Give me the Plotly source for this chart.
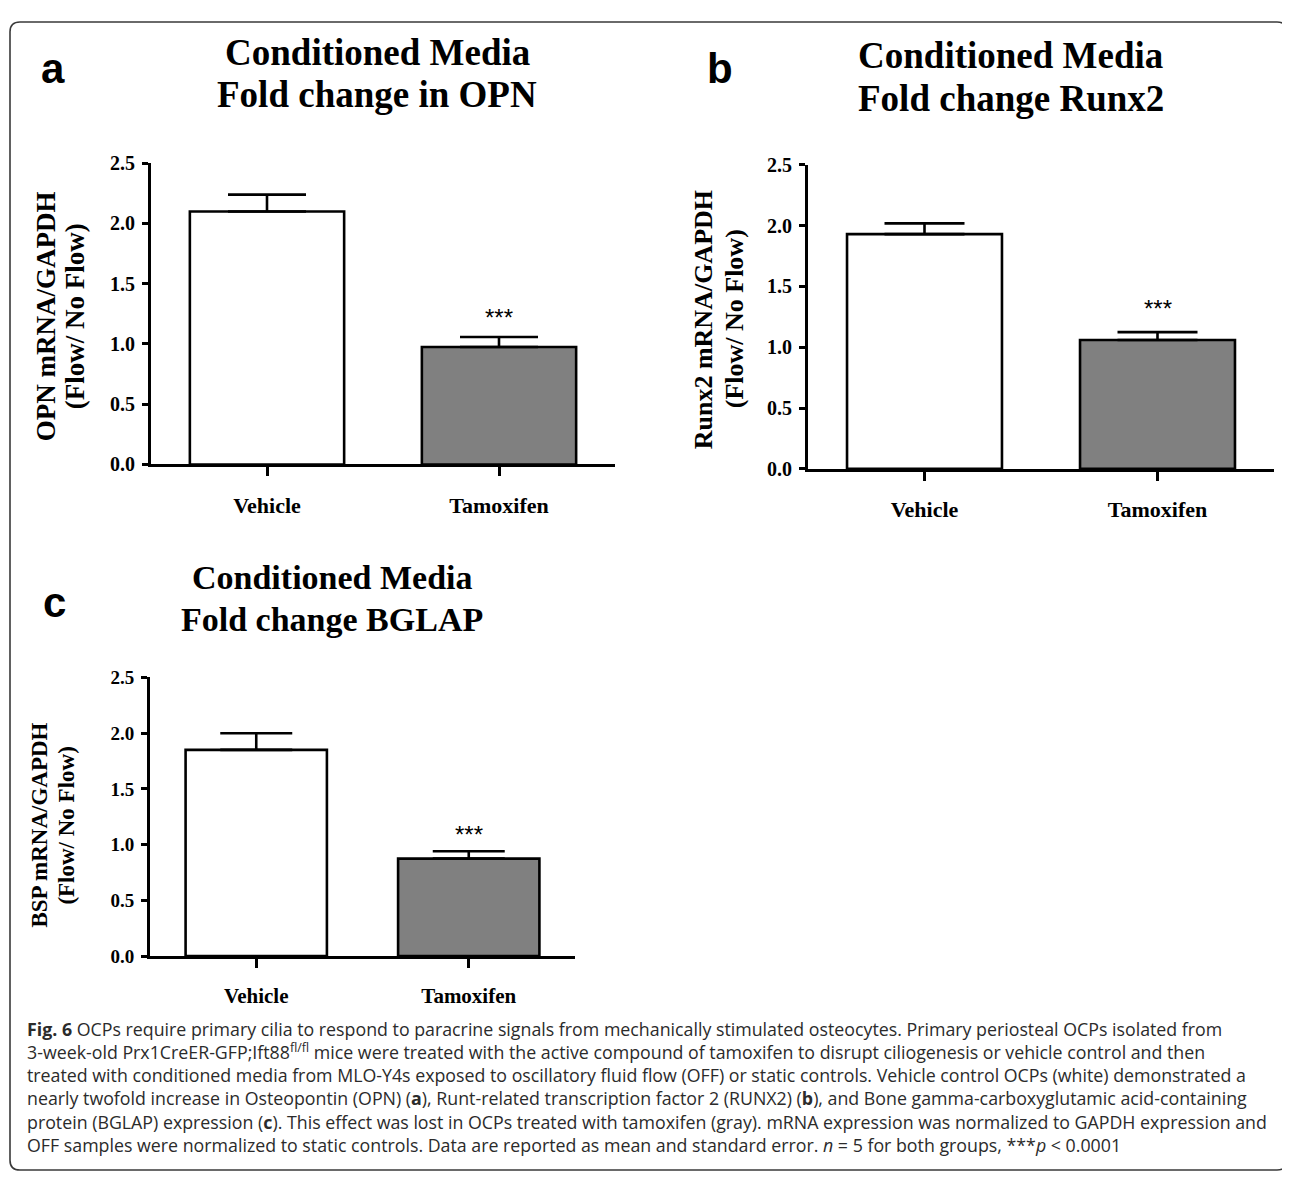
import plotly.graph_objects as go

# page body has an 8px default margin; lay out in screen pixels and shift
OFF = 8
FW, FH = 1290 - OFF, 1183 - OFF

# ---------------- data ----------------
categories = ["Vehicle", "Tamoxifen"]

opn_mean = [2.10, 0.975]
opn_sem = [0.14, 0.083]

runx2_mean = [1.93, 1.06]
runx2_sem = [0.088, 0.064]

bglap_mean = [1.85, 0.875]
bglap_sem = [0.15, 0.066]

y_ticks = [0.0, 0.5, 1.0, 1.5, 2.0, 2.5]

panel_letters = ["a", "b", "c"]
panel_titles = [
    ["Conditioned Media", "Fold change in OPN"],
    ["Conditioned Media", "Fold change Runx2"],
    ["Conditioned Media", "Fold change BGLAP"],
]
y_titles = [
    ["OPN mRNA/GAPDH", "(Flow/ No Flow)"],
    ["Runx2 mRNA/GAPDH", "(Flow/ No Flow)"],
    ["BSP mRNA/GAPDH", "(Flow/ No Flow)"],
]
sig_label = "***"

caption_lines = [
    "<b>Fig. 6</b> OCPs require primary cilia to respond to paracrine signals from mechanically stimulated osteocytes. Primary periosteal OCPs isolated from",
    "3-week-old Prx1CreER-GFP;Ift88<sup>fl/fl</sup> mice were treated with the active compound of tamoxifen to disrupt ciliogenesis or vehicle control and then",
    "treated with conditioned media from MLO-Y4s exposed to oscillatory fluid flow (OFF) or static controls. Vehicle control OCPs (white) demonstrated a",
    "nearly twofold increase in Osteopontin (OPN) (<b>a</b>), Runt-related transcription factor 2 (RUNX2) (<b>b</b>), and Bone gamma-carboxyglutamic acid-containing",
    "protein (BGLAP) expression (<b>c</b>). This effect was lost in OCPs treated with tamoxifen (gray). mRNA expression was normalized to GAPDH expression and",
    "OFF samples were normalized to static controls. Data are reported as mean and standard error. <i>n</i> = 5 for both groups, ***<i>p</i> &lt; 0.0001",
]

# ---------------- style / layout ----------------
SERIF = "Liberation Serif, Times New Roman, serif"
SANS = "Liberation Sans, Arial, sans-serif"
CAP_FONT = "Open Sans, Noto Sans, sans-serif"
bar_colors = ["#ffffff", "#808080"]


def px_x(p):
    return (p - OFF) / FW


def px_y(p):
    return 1 - (p - OFF) / FH


# pixel boxes (screen coords) for each panel: (x0, x1, y_top, y_bottom)
panels = [
    dict(box=(151, 615, 155, 462), means=opn_mean, sems=opn_sem, cap=39,
         title_x=377, title_y=(42, 85), title_size=37,
         letter=(53, 58), ytitle_x=(46, 75), ytitle_y=311, ytitle_size=27,
         tick_size=20, xlab_size=22, star_shift=20),
    dict(box=(808, 1274, 156.5, 466.5), means=runx2_mean, sems=runx2_sem, cap=40,
         title_x=1011, title_y=(45.5, 89.5), title_size=37,
         letter=(720, 58), ytitle_x=(703, 734), ytitle_y=314, ytitle_size=26,
         tick_size=20, xlab_size=22, star_shift=24),
    dict(box=(150, 575, 679, 963), means=bglap_mean, sems=bglap_sem, cap=36,
         title_x=332, title_y=(577, 620), title_size=34,
         letter=(54, 603), ytitle_x=(40, 67), ytitle_y=830, ytitle_size=23,
         tick_size=19, xlab_size=21, star_shift=17),
]

fig = go.Figure()
annotations = []

for i, p in enumerate(panels):
    k = "" if i == 0 else str(i + 1)
    x0, x1, yt, yb = p["box"]
    fig.add_trace(go.Bar(
        x=categories, y=p["means"],
        width=0.665,
        marker=dict(color=bar_colors, line=dict(color="black", width=2.6)),
        error_y=dict(type="data", symmetric=False, array=p["sems"],
                     arrayminus=[0] * len(p["sems"]),
                     color="black", thickness=2.6, width=p["cap"]),
        xaxis="x" + k, yaxis="y" + k, showlegend=False, hoverinfo="skip",
    ))

    xa = dict(domain=[px_x(x0), px_x(x1)], range=[-0.5, 1.5], anchor="y" + k,
              showline=True, linecolor="black", linewidth=3,
              ticks="outside", ticklen=9, tickwidth=2.5, tickcolor="black",
              tickfont=dict(family=SERIF, size=p["xlab_size"], color="black", weight="bold"),
              ticklabelstandoff=10, showgrid=False, zeroline=False, fixedrange=True)
    ya = dict(domain=[px_y(yb), px_y(yt)], range=[0, 2.5], anchor="x" + k,
              tickvals=y_ticks, tickformat=".1f",
              showline=True, linecolor="black", linewidth=3,
              ticks="outside", ticklen=6, tickwidth=2.5, tickcolor="black",
              tickfont=dict(family=SERIF, size=p["tick_size"], color="black", weight="bold"),
              ticklabelstandoff=3, showgrid=False, zeroline=False, fixedrange=True)
    fig.update_layout(**{"xaxis" + k: xa, "yaxis" + k: ya})

    # significance stars above the tamoxifen error bar
    annotations.append(dict(
        x=categories[1], y=p["means"][1] + p["sems"][1], xref="x" + k, yref="y" + k,
        text=sig_label, showarrow=False, yanchor="middle", yshift=p["star_shift"],
        font=dict(family=SANS, size=24, color="black")))

    # panel titles
    for line, ty in zip(panel_titles[i], p["title_y"]):
        annotations.append(dict(
            x=px_x(p["title_x"]), y=px_y(ty), xref="paper", yref="paper",
            text="<b>" + line + "</b>", showarrow=False, xanchor="center", yanchor="middle",
            font=dict(family=SERIF, size=p["title_size"], color="black")))

    # panel letter
    lx, ly = p["letter"]
    annotations.append(dict(
        x=px_x(lx), y=px_y(ly), xref="paper", yref="paper",
        text="<b>" + panel_letters[i] + "</b>", showarrow=False,
        xanchor="center", yanchor="middle",
        font=dict(family=SANS, size=42, color="black")))

    # y-axis titles (two rotated lines)
    for line, tx in zip(y_titles[i], p["ytitle_x"]):
        annotations.append(dict(
            x=px_x(tx), y=px_y(p["ytitle_y"]), xref="paper", yref="paper",
            text="<b>" + line + "</b>", showarrow=False, textangle=-90,
            xanchor="center", yanchor="middle",
            font=dict(family=SERIF, size=p["ytitle_size"], color="black")))

# caption (one multi-line block)
annotations.append(dict(
    x=px_x(25), y=px_y(1023), xref="paper", yref="paper",
    text="<br>".join(caption_lines), showarrow=False,
    xanchor="left", yanchor="top", align="left",
    font=dict(family=CAP_FONT, size=17.8, color="#2b2b2b")))

# rounded frame (screen px -> paper)
fx0, fy0, fx1, fy1, r = 10, 11, 1287, 1181, 10
pts = [
    ("M", (fx0 + r, fy0)), ("L", (fx1 - r, fy0)), ("Q", (fx1, fy0), (fx1, fy0 + r)),
    ("L", (fx1, fy1 - r)), ("Q", (fx1, fy1), (fx1 - r, fy1)),
    ("L", (fx0 + r, fy1)), ("Q", (fx0, fy1), (fx0, fy1 - r)),
    ("L", (fx0, fy0 + r)), ("Q", (fx0, fy0), (fx0 + r, fy0)),
]
segs = []
for cmd, *cs in pts:
    segs.append(cmd + " " + " ".join(f"{px_x(a):.6f},{px_y(b):.6f}" for a, b in cs))
paper_path = " ".join(segs) + " Z"

fig.update_layout(
    width=FW, height=FH,
    margin=dict(l=0, r=0, t=0, b=0),
    paper_bgcolor="white", plot_bgcolor="white",
    annotations=annotations,
    shapes=[dict(type="path", path=paper_path, xref="paper", yref="paper",
                 line=dict(color="#3a3a3a", width=1.6), fillcolor="rgba(0,0,0,0)")],
)

fig.write_html("out.html")
